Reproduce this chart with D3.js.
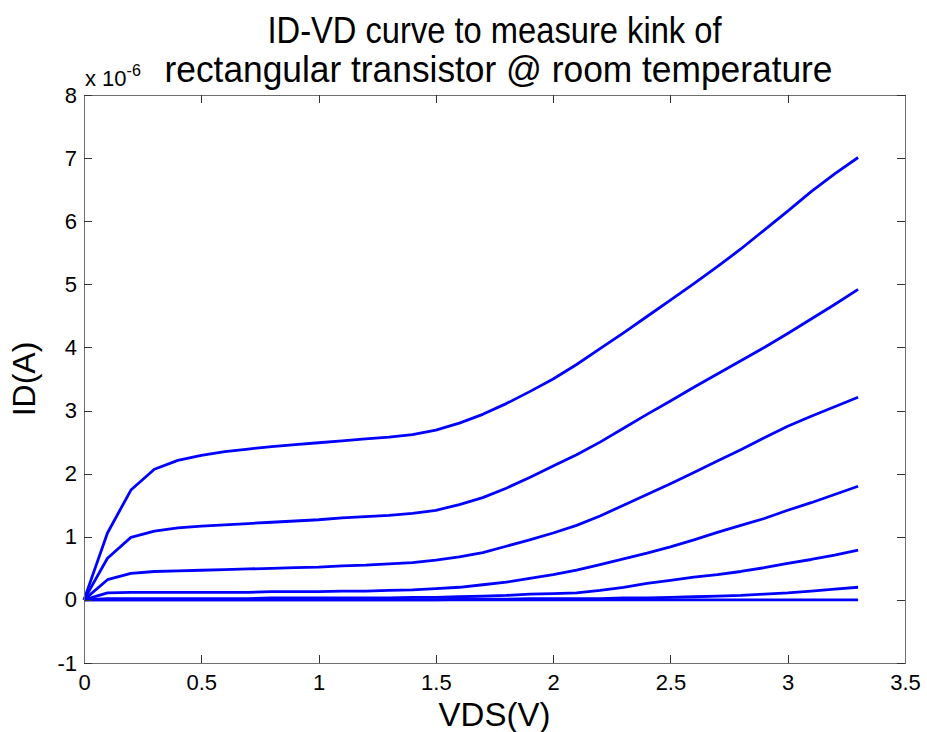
<!DOCTYPE html>
<meta charset="utf-8">
<head>
<style>
body {
  margin: 0;
  background: #fff;
  font-family: "Liberation Sans", Arial, sans-serif;
}
.axis path {
  stroke: #6e6e6e;
  stroke-width: 1px;
  fill: none;
  shape-rendering: crispEdges;
}
.axis line {
  stroke: #333;
  stroke-width: 1px;
  shape-rendering: crispEdges;
}
.axis text {
  font-family: "Liberation Sans", Arial, sans-serif;
  font-size: 22px;
  fill: #000;
}
.curve {
  fill: none;
  stroke: #0000ff;
  stroke-width: 2.8px;
  stroke-linejoin: round;
}
</style>
<script src="https://d3js.org/d3.v7.min.js"></script>
</head>
<body>
<div id="chart"></div>
<script>

// VDS sweep (V)
var vds = [0, 0.1, 0.2, 0.3, 0.4, 0.5, 0.6, 0.7, 0.8, 0.9, 1.0, 1.1, 1.2, 1.3, 1.4, 1.5, 1.6,
           1.7, 1.8, 1.9, 2.0, 2.1, 2.2, 2.3, 2.4, 2.5, 2.6, 2.7, 2.8, 2.9, 3.0, 3.1, 3.2, 3.3];

// ID in units of 1e-6 A, one array per gate bias
var id1 = [0, 1.06, 1.74, 2.07, 2.21, 2.29, 2.35, 2.39, 2.43, 2.46, 2.49, 2.52, 2.55, 2.58, 2.62, 2.69, 2.80,
           2.94, 3.11, 3.30, 3.50, 3.73, 3.98, 4.23, 4.49, 4.75, 5.01, 5.28, 5.56, 5.86, 6.16, 6.47, 6.75, 7.01];
var id2 = [0, 0.66, 0.99, 1.09, 1.14, 1.17, 1.19, 1.21, 1.23, 1.25, 1.27, 1.30, 1.32, 1.34, 1.37, 1.42, 1.51,
           1.62, 1.77, 1.94, 2.12, 2.30, 2.50, 2.72, 2.94, 3.15, 3.37, 3.58, 3.79, 4.00, 4.22, 4.45, 4.68, 4.92];
var id3 = [0, 0.32, 0.42, 0.45, 0.46, 0.47, 0.48, 0.49, 0.50, 0.51, 0.52, 0.54, 0.55, 0.57, 0.59, 0.63, 0.68,
           0.75, 0.85, 0.95, 1.06, 1.18, 1.33, 1.50, 1.67, 1.84, 2.02, 2.20, 2.38, 2.57, 2.75, 2.91, 3.06, 3.21];
var id4 = [0, 0.11, 0.12, 0.12, 0.12, 0.12, 0.12, 0.12, 0.13, 0.13, 0.13, 0.14, 0.14, 0.15, 0.16, 0.18, 0.20,
           0.24, 0.28, 0.34, 0.40, 0.47, 0.56, 0.65, 0.74, 0.84, 0.95, 1.07, 1.18, 1.29, 1.42, 1.54, 1.67, 1.80];
var id5 = [0, 0.02, 0.02, 0.02, 0.02, 0.02, 0.02, 0.02, 0.03, 0.03, 0.03, 0.03, 0.03, 0.03, 0.04, 0.04, 0.05,
           0.06, 0.07, 0.09, 0.10, 0.11, 0.15, 0.20, 0.26, 0.31, 0.36, 0.40, 0.45, 0.51, 0.58, 0.64, 0.71, 0.79];
var id6 = [0, 0, 0, 0, 0, 0, 0, 0, 0, 0, 0, 0, 0, 0, 0, 0, 0.01,
           0.01, 0.01, 0.02, 0.02, 0.02, 0.02, 0.03, 0.03, 0.04, 0.05, 0.06, 0.07, 0.09, 0.11, 0.14, 0.17, 0.20];
var id7 = [0, 0, 0, 0, 0, 0, 0, 0, 0, 0, 0, 0, 0, 0, 0, 0, 0,
           0, 0, 0, 0, 0, 0, 0, 0, 0, 0, 0, 0, 0, 0, 0, 0, 0];

var xTicks = [0, 0.5, 1, 1.5, 2, 2.5, 3, 3.5];
var yTicks = [-1, 0, 1, 2, 3, 4, 5, 6, 7, 8];
var titleLines = ["ID-VD curve to measure kink of", "rectangular transistor @ room temperature"];

var allCurves = [id1, id2, id3, id4, id5, id6, id7];

var W = 927, H = 732;
var margin = {top: 95, right: 22, bottom: 69, left: 84},
  width = W - margin.left - margin.right,
  height = H - margin.top - margin.bottom;

var root = d3.select("#chart").append("svg")
  .attr("width", W)
  .attr("height", H);

var svg = root.append("g")
  .attr("transform", "translate(" + margin.left + "," + margin.top + ")");

var x = d3.scaleLinear().domain([0, 3.5]).range([0, width]);
var y = d3.scaleLinear().domain([-1, 8]).range([height, 0]);

// plain hyphen for negatives, like the original
var fmt = function(d) { return String(d); };

////Curves
var line = d3.line()
  .x(function(d, i) { return x(vds[i]); })
  .y(function(d) { return y(d); });

svg.selectAll(".curve")
  .data(allCurves.slice().reverse())
  .enter()
  .append("path")
    .attr("class", "curve")
    .attr("d", function(d) { return line(d); });

////Axes (ticks pointing inward, box all around)
svg.append("g")
  .attr("class", "axis")
  .attr("transform", "translate(0," + height + ")")
  .call(d3.axisBottom(x).tickValues(xTicks).tickSizeInner(-8).tickSizeOuter(0).tickPadding(11).tickFormat(fmt));

svg.append("g")
  .attr("class", "axis")
  .call(d3.axisTop(x).tickValues(xTicks).tickSizeInner(-8).tickSizeOuter(0).tickFormat(""));

svg.append("g")
  .attr("class", "axis")
  .call(d3.axisLeft(y).tickValues(yTicks).tickSizeInner(-8).tickSizeOuter(0).tickPadding(7).tickFormat(fmt));

svg.append("g")
  .attr("class", "axis")
  .attr("transform", "translate(" + width + ",0)")
  .call(d3.axisRight(y).tickValues(yTicks).tickSizeInner(-8).tickSizeOuter(0).tickFormat(""));

////Exponent label
var expo = svg.append("text")
  .attr("x", 1)
  .attr("y", -9)
  .style("font-size", "22px");
expo.append("tspan").text("x 10");
expo.append("tspan").attr("dy", -10).style("font-size", "16px").text("-6");

////Title
var title = root.append("text")
  .attr("text-anchor", "middle")
  .style("font-size", "36px");
title.append("tspan")
  .attr("x", margin.left + width / 2).attr("y", 43)
  .attr("textLength", 454).attr("lengthAdjust", "spacingAndGlyphs")
  .text(titleLines[0]);
title.append("tspan")
  .attr("x", margin.left + width / 2 + 4).attr("y", 82)
  .attr("textLength", 668).attr("lengthAdjust", "spacingAndGlyphs")
  .text(titleLines[1]);

////Axis labels
root.append("text")
  .attr("text-anchor", "middle")
  .attr("x", margin.left + width / 2)
  .attr("y", 726)
  .style("font-size", "33px")
  .text("VDS(V)");

root.append("text")
  .attr("text-anchor", "middle")
  .attr("transform", "translate(35," + (margin.top + height / 2) + ") rotate(-90)")
  .style("font-size", "32px")
  .text("ID(A)");

</script>
</body>
</html>
